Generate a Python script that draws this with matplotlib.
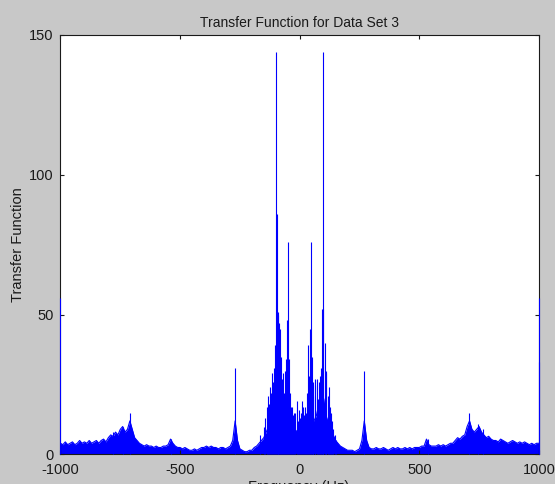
import numpy as np
import matplotlib
matplotlib.use("Agg")
import matplotlib.pyplot as plt

plt.rcParams['font.family'] = ['Liberation Sans', 'DejaVu Sans']
plt.rcParams['axes.unicode_minus'] = False

# Broadband magnitude on a 10 Hz grid (-1000 ... 1000 Hz)
freq_grid = np.arange(-1000, 1001, 10)
background_mag = [
    4, 3.5, 4.5, 3.5, 4, 4.5, 3.5, 4, 5, 4,            # -1000 .. -910
    4.5, 4, 5, 4, 4.5, 5, 4, 5, 5.5, 4.5,              # -900 .. -810
    6, 7, 6.5, 8, 7, 9, 10, 8, 9, 12,                  # -800 .. -710
    9, 6, 5, 4, 3.5, 3, 3.5, 3, 3, 2.5,                # -700 .. -610
    3, 2.5, 2.5, 3, 3, 3.5, 5.5, 4, 3, 2.5,            # -600 .. -510
    2.5, 2, 2.5, 2, 1.5, 1.5, 2, 1.5, 2, 2.5,          # -500 .. -410
    2.5, 3, 2.5, 3, 2.5, 2.5, 2, 2.5, 2.5, 2,          # -400 .. -310
    2.5, 3, 5, 12, 5, 2, 1.5, 1, 1, 1.5,               # -300 .. -210
    1.5, 2.5, 3, 4, 5, 6, 8, 10, 12, 14,               # -200 .. -110
    18, 22, 20, 14, 12, 14, 12, 10, 9, 8,              # -100 .. -10
    8, 9, 10, 12, 14, 13, 12, 14, 18, 22,              # 0 .. 90
    20, 14, 11, 9, 7, 5, 4, 3, 2.5, 2,                 # 100 .. 190
    1.5, 1.5, 1.5, 1, 1.5, 2, 5, 12, 5, 2.5,           # 200 .. 290
    2, 2, 2.5, 2, 2, 2.5, 2, 1.5, 2, 2.5,              # 300 .. 390
    2, 2.5, 2, 2, 2.5, 2, 2.5, 2, 2.5, 2.5,            # 400 .. 490
    2.5, 3, 3, 5.5, 3.5, 3, 3, 3, 3.5, 3,              # 500 .. 590
    3.5, 3, 3.5, 4, 4, 5, 6, 5.5, 6.5, 7,              # 600 .. 690
    10, 12, 9, 8, 9, 10, 8, 7, 6, 6.5,                 # 700 .. 790
    5.5, 5, 5, 4.5, 5.5, 5, 4.5, 4, 4.5, 5,            # 800 .. 890
    4.5, 4, 4.5, 4, 4.5, 4, 3.5, 4, 3.5, 4,            # 900 .. 990
    4,                                                 # 1000
]

# Narrow spectral lines (Hz, magnitude)
line_freq = [
    -1000, -780, -737, -708, -536, -270,
    -165, -150, -143, -137, -133, -128, -124, -119, -115, -110, -106, -102,
    -97, -95, -92, -89, -85, -82, -78, -74, -70, -66, -62, -57, -52, -47,
    -44, -40, -36, -31, -27, -23, -18, -13, -8, -4, 0, 4, 8, 13, 18, 23,
    28, 32, 36, 40, 43, 46, 50, 54, 57, 62, 66, 71, 75, 80, 84, 89, 93,
    96, 99, 104, 108, 112, 117, 121, 126, 131, 136, 140, 146, 152,
    270, 536, 708, 745, 765, 1000, 1000,
]
line_mag = [
    56, 8, 10, 15, 5.5, 31,
    7, 10, 13, 17, 21, 18, 24, 22, 29, 26, 31, 39,
    144, 86, 51, 50, 47, 45, 35, 27, 29, 22, 30, 34, 48, 76,
    34, 22, 17, 17, 14, 15, 15, 19, 12, 16, 13, 15, 19, 17, 14, 17,
    15, 22, 39, 28, 45, 76, 35, 26, 21, 25, 27, 27, 20, 26, 28, 31, 52,
    52, 144, 40, 29, 30, 21, 24, 17, 15, 12, 9, 7, 5,
    30, 5.5, 15, 11, 9, 56, 33,
]

blue = '#0000ff'
ink = '#1a1a1a'

fig = plt.figure(figsize=(5.55, 4.84), dpi=100, facecolor='#c8c8c8')
ax = fig.add_axes([0.109, 0.061, 0.862, 0.8667])
ax.set_facecolor('white')

ax.fill_between(freq_grid, 0, background_mag, color=blue, linewidth=0)
ax.plot(freq_grid, background_mag, color=blue, linewidth=0.8)
ax.vlines(line_freq, 0, line_mag, color=blue, linewidth=0.8,
          zorder=3, clip_on=False)

ax.set_xlim(-1000, 1000)
ax.set_ylim(0, 150)
ax.set_xticks([-1000, -500, 0, 500, 1000])
ax.set_yticks([0, 50, 100, 150])
ax.tick_params(direction='in', length=3, width=0.8, top=True, right=True,
               labelsize=10.5, colors=ink, pad=5)
ax.tick_params(axis='x', pad=6)
for s in ax.spines.values():
    s.set_color(ink)
    s.set_linewidth(0.8)

ax.set_title('Transfer Function for Data Set 3', fontsize=10, color=ink, pad=6)
fig.text(18 / 555, 1 - 245 / 484, 'Transfer Function', rotation=90,
         ha='center', va='center', fontsize=10.5, color=ink)
fig.text(298.5 / 555, 1 - 480 / 484, 'Frequency (Hz)', ha='center', va='top',
         fontsize=10.5, color=ink)

fig.savefig('out.png', dpi=100, facecolor=fig.get_facecolor())
